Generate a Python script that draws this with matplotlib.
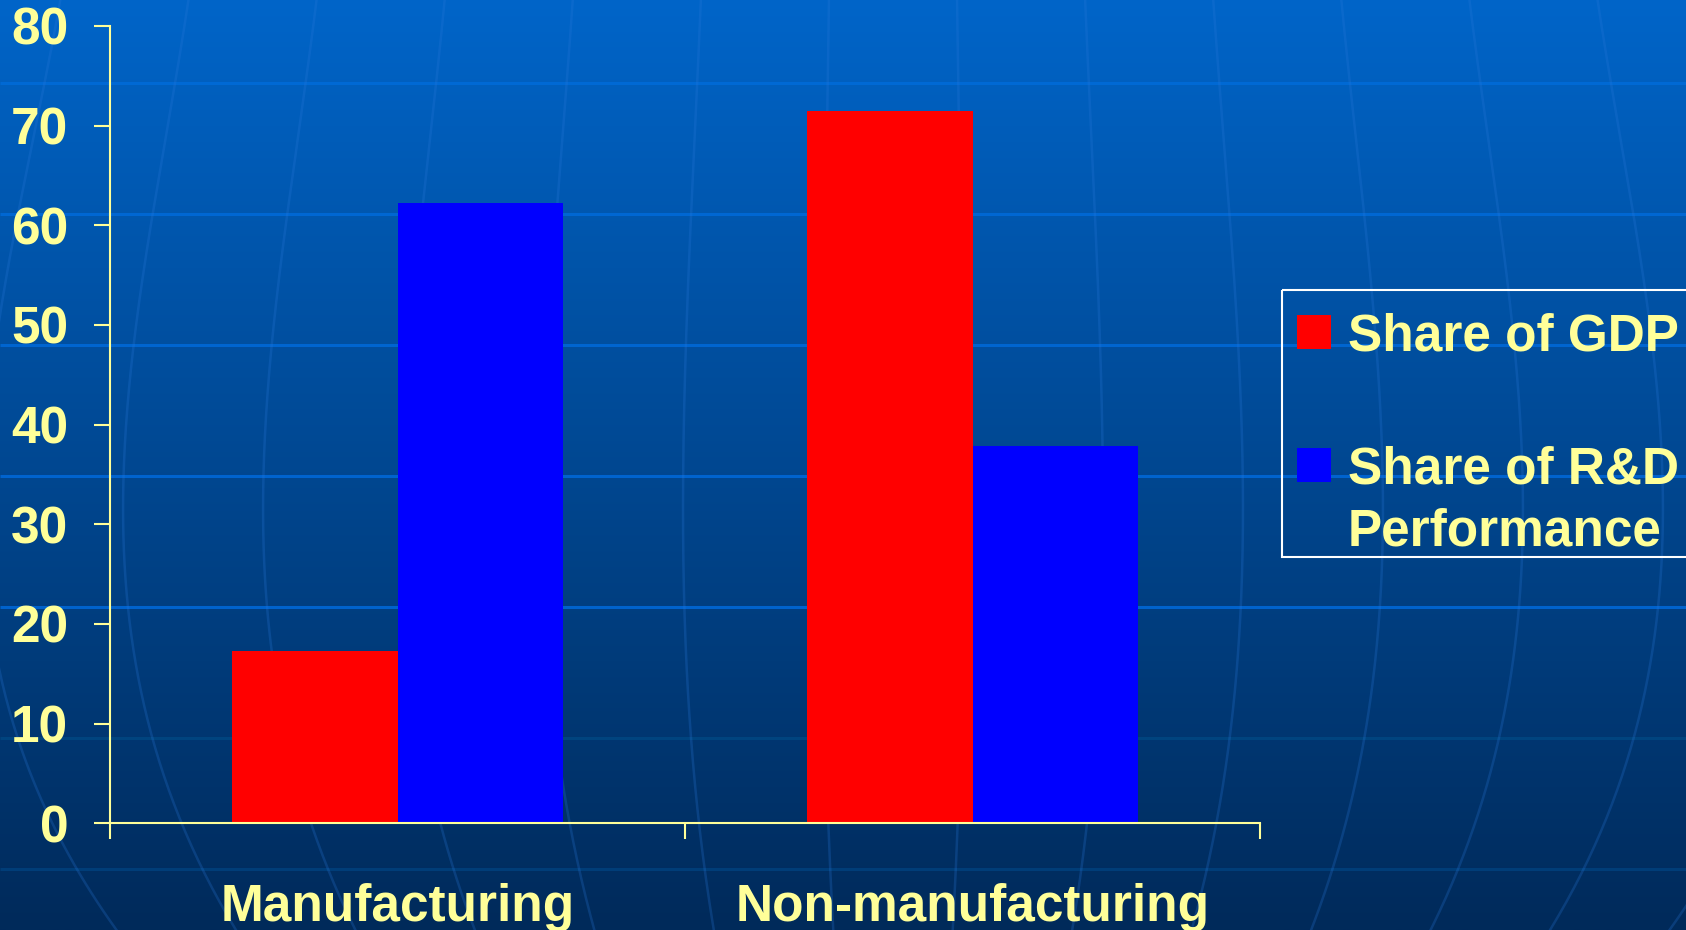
import numpy as np
import matplotlib
matplotlib.use("Agg")
import matplotlib.pyplot as plt
from matplotlib.patches import Rectangle

# ---- data -------------------------------------------------------------
categories = ["Manufacturing", "Non-manufacturing"]
series_names = ["Share of GDP", "Share of R&D\nPerformance"]
gdp_share = [17.3, 71.5]
rd_share = [62.2, 37.9]
y_ticks = [0, 10, 20, 30, 40, 50, 60, 70, 80]

# ---- style ------------------------------------------------------------
W, H, DPI = 1686, 930, 100
TEXT = "#FFFF99"
BAR_COLORS = ["#FF0000", "#0000FF"]
FONT = "Liberation Sans"
FS = 37

plt.rcParams["font.family"] = [FONT, "DejaVu Sans"]
plt.rcParams["font.weight"] = "bold"

fig = plt.figure(figsize=(W / DPI, H / DPI), dpi=DPI)

# ---- slide background: vertical gradient with a globe-like grid -------
bg = fig.add_axes([0, 0, 1, 1], zorder=0)
bg.set_xlim(0, W)
bg.set_ylim(H, 0)
bg.axis("off")
top = np.array([0x00, 0x65, 0xC9]) / 255
bot = np.array([0x00, 0x2A, 0x5A]) / 255
t = np.linspace(0, 1, 400)[:, None]
grad = (top[None, :] * (1 - t) + bot[None, :] * t)[:, None, :]
bg.imshow(grad, extent=[0, W, H, 0], aspect="auto", interpolation="bilinear")

lat_y = [83, 214, 345, 476, 607, 738, 869]
lat_col = ["#0069D4", "#0067D2", "#0065D0", "#0063CE", "#0062CC", "#00447F", "#003D78"]
for yy, cc in zip(lat_y, lat_col):
    bg.plot([0, W], [yy, yy], color=cc, lw=2.2, solid_capstyle="butt")

# meridian spacing varies smoothly with height (widest near the middle)
knot_y = [0, 83, 214, 345, 476, 607, 738, 869, 930]
knot_s = [128, 131, 134, 138, 140, 140, 134, 125, 120]
coef = np.polyfit(knot_y, knot_s, 3)
yy_fine = np.linspace(0, H, 200)
s_fine = np.polyval(coef, yy_fine)
cx = 893
for i in range(-8, 8):
    bg.plot(cx + (i + 0.5) * s_fine, yy_fine, color="#2A78DA", alpha=0.25, lw=1.8)

# ---- chart ------------------------------------------------------------
x0, x1 = 110, 1260
y0, y80 = 823.3, 26
ax = fig.add_axes([x0 / W, (H - y0) / H, (x1 - x0) / W, (y0 - y80) / H], zorder=2)
ax.set_facecolor("none")

x = np.arange(len(categories))
bw = 0.2875
ax.bar(x - bw / 2, gdp_share, width=bw, color=BAR_COLORS[0], linewidth=0)
ax.bar(x + bw / 2, rd_share, width=bw, color=BAR_COLORS[1], linewidth=0)

ax.set_xlim(-0.5, len(categories) - 0.5)
ax.set_ylim(0, 80)

for side in ("top", "right"):
    ax.spines[side].set_visible(False)
for side in ("left", "bottom"):
    ax.spines[side].set_color(TEXT)
    ax.spines[side].set_linewidth(1.5)

ax.set_yticks(y_ticks)
ax.set_yticklabels([str(v) for v in y_ticks])
ax.tick_params(axis="y", direction="out", length=11.5, width=1.5, color=TEXT,
               labelcolor=TEXT, labelsize=FS, pad=18.5)

ax.set_xticks(np.arange(len(categories) + 1) - 0.5)
ax.set_xticklabels([])
ax.tick_params(axis="x", which="major", direction="out", length=11.5, width=1.5, color=TEXT)
ax.set_xticks(x, minor=True)
ax.set_xticklabels(categories, minor=True)
ax.tick_params(axis="x", which="minor", length=0, labelcolor=TEXT, labelsize=FS, pad=43)
for lab in ax.get_yticklabels() + ax.get_xticklabels(minor=True):
    lab.set_fontweight("bold")

# ---- legend box ---------------------------------------------------------
lg = fig.add_axes([0, 0, 1, 1], zorder=3)
lg.set_xlim(0, W)
lg.set_ylim(H, 0)
lg.axis("off")
lg.add_patch(Rectangle((1282, 290), 500, 267, fill=False, edgecolor="white", lw=1.5))
entry_baselines = [350, 483]
line_step = 62
for name, col, yb in zip(series_names, BAR_COLORS, entry_baselines):
    lg.add_patch(Rectangle((1297, yb - 35), 34, 34, facecolor=col, edgecolor="none"))
    for k, line in enumerate(name.split("\n")):
        lg.text(1348, yb + k * line_step, line, color=TEXT, fontsize=FS,
                fontweight="bold", ha="left", va="baseline")

fig.savefig("out.png", dpi=DPI)
